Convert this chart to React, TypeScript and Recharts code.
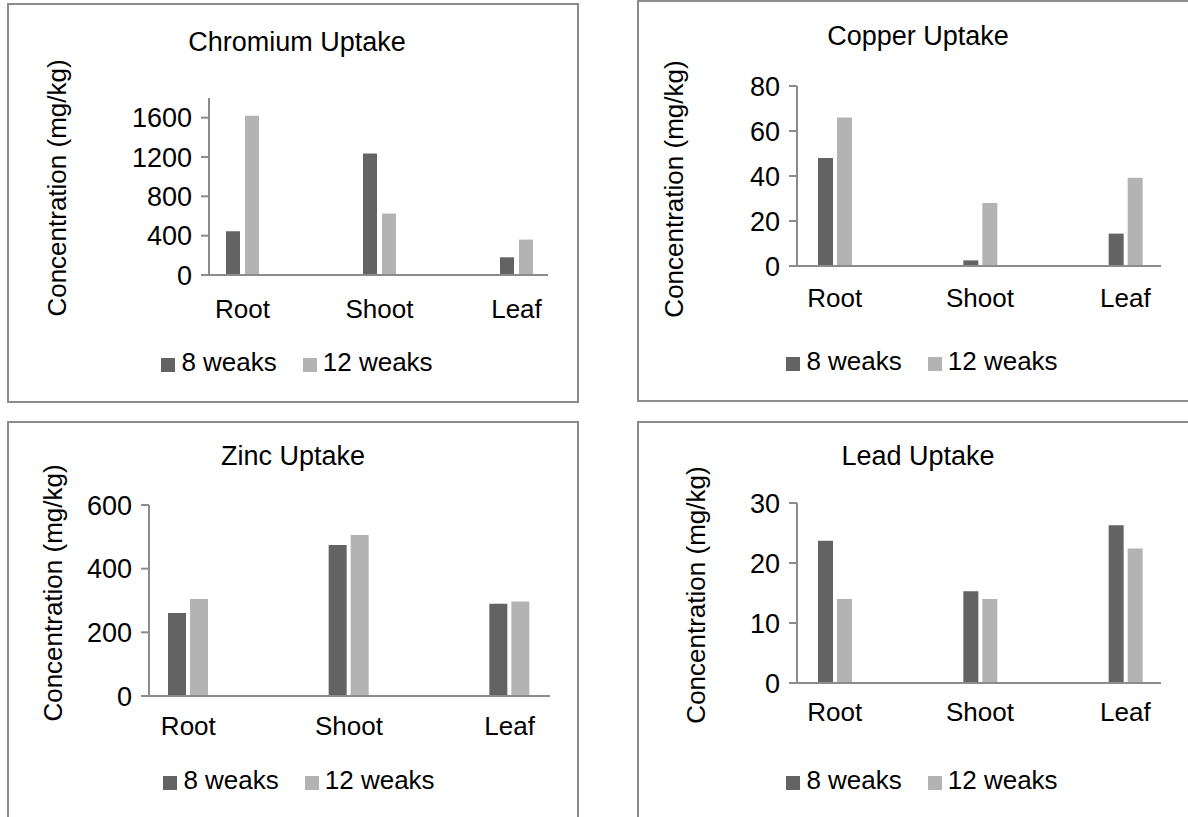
import React from 'react';
import { BarChart, Bar, XAxis, YAxis, Legend } from 'recharts';

const FONT = '"Liberation Sans", Arial, sans-serif';
const DARK = '#636363';
const LIGHT = '#b3b3b3';
const AXIS = '#8c8c8c';

const parts = ['Root', 'Shoot', 'Leaf'];
const seriesNames = ['8 weaks', '12 weaks'];
const yTitle = 'Concentration  (mg/kg)';

const chromium8 = [445, 1235, 180];
const chromium12 = [1620, 625, 360];
const chromiumTicks = [0, 400, 800, 1200, 1600];

const copper8 = [48, 2.5, 14.4];
const copper12 = [66, 28, 39.2];
const copperTicks = [0, 20, 40, 60, 80];

const zinc8 = [261, 474, 290];
const zinc12 = [305, 506, 297];
const zincTicks = [0, 200, 400, 600];

const lead8 = [23.7, 15.3, 26.3];
const lead12 = [14, 14, 22.4];
const leadTicks = [0, 10, 20, 30];

const toRows = (a: number[], b: number[]) =>
  parts.map((p, i) => ({ part: p, w8: a[i], w12: b[i] }));

// layout of each panel, in page pixels
const panels = [
  {
    title: 'Chromium Uptake', data: toRows(chromium8, chromium12),
    ticks: chromiumTicks, domain: [0, 1800],
    box: { left: 8, top: 4, right: 578, bottom: 402 },
    axisX: 209, axisY: 275, plotTop: 98, plotRight: 548,
    bandStart: 174, bandEnd: 585, barSize: 14, barGap: 5, catMargin: 25,
    titleX: 297, titleY: 51, labelX: 66, labelY: 188,
    legendX: 297, legendY: 371,
  },
  {
    title: 'Copper Uptake', data: toRows(copper8, copper12),
    ticks: copperTicks, domain: [0, 80],
    box: { left: 638, top: 1, right: 1200, bottom: 401 },
    axisX: 797, axisY: 266, plotTop: 86, plotRight: 1161,
    bandStart: 762, bandEnd: 1198, barSize: 15, barGap: 4, catMargin: 23,
    titleX: 918, titleY: 45, labelX: 683, labelY: 189,
    legendX: 922, legendY: 370,
  },
  {
    title: 'Zinc Uptake', data: toRows(zinc8, zinc12),
    ticks: zincTicks, domain: [0, 600],
    box: { left: 8, top: 422, right: 578, bottom: 830 },
    axisX: 149, axisY: 696, plotTop: 505, plotRight: 550,
    bandStart: 108, bandEnd: 590, barSize: 18, barGap: 4, catMargin: 21,
    titleX: 293, titleY: 465, labelX: 62, labelY: 593,
    legendX: 299, legendY: 789,
  },
  {
    title: 'Lead Uptake', data: toRows(lead8, lead12),
    ticks: leadTicks, domain: [0, 30],
    box: { left: 638, top: 422, right: 1200, bottom: 830 },
    axisX: 797, axisY: 683, plotTop: 503, plotRight: 1161,
    bandStart: 762, bandEnd: 1198, barSize: 15, barGap: 4, catMargin: 20,
    titleX: 918, titleY: 465, labelX: 705, labelY: 595,
    legendX: 922, legendY: 789,
  },
];

const renderLegend = (props: any) => {
  const items = [...(props.payload || [])].sort(
    (a: any, b: any) => seriesNames.indexOf(a.value) - seriesNames.indexOf(b.value)
  );
  return (
    <div style={{ display: 'flex', justifyContent: 'center', fontFamily: FONT, fontSize: 26, lineHeight: '26px', color: '#000' }}>
      {items.map((item: any, i: number) => (
        <div key={i} style={{ display: 'flex', alignItems: 'flex-start', marginLeft: i ? 26 : 0 }}>
          <span style={{ display: 'block', width: 14, height: 14, background: item.color, marginTop: 9, marginRight: 6 }} />
          <span style={{ whiteSpace: 'nowrap' }}>{item.value}</span>
        </div>
      ))}
    </div>
  );
};

function UptakeChart({ cfg }: { cfg: any }) {
  const { box } = cfg;
  const w = box.right - box.left;
  const h = box.bottom - box.top;
  const yw = 60;
  const xh = 40;
  const margin = {
    left: cfg.axisX - box.left - yw,
    top: cfg.plotTop - box.top,
    right: box.right - cfg.plotRight,
    bottom: box.bottom - cfg.axisY - xh,
  };
  return (
    <div style={{ position: 'absolute', left: box.left, top: box.top }}>
      <BarChart width={w} height={h} data={cfg.data} margin={margin} barGap={cfg.barGap}>
        <XAxis
          dataKey="part"
          height={xh}
          interval={0}
          tickLine={false}
          tickSize={0}
          tickMargin={cfg.catMargin}
          axisLine={{ stroke: AXIS, strokeWidth: 2 }}
          tick={{ fontSize: 26, fill: '#000', fontFamily: FONT }}
          padding={{ left: cfg.bandStart - cfg.axisX, right: cfg.plotRight - cfg.bandEnd }}
        />
        <YAxis
          width={yw}
          domain={cfg.domain}
          ticks={cfg.ticks}
          interval={0}
          tickSize={8}
          tickMargin={9}
          axisLine={{ stroke: AXIS, strokeWidth: 2 }}
          tickLine={{ stroke: AXIS, strokeWidth: 2 }}
          tick={{ fontSize: 27, fill: '#000', fontFamily: FONT }}
        />
        <Legend
          layout="horizontal"
          align="center"
          verticalAlign="middle"
          content={renderLegend}
          wrapperStyle={{ left: cfg.legendX - box.left - 200, top: cfg.legendY - 22 - box.top, width: 400, height: 26 }}
        />
        <Bar dataKey="w8" name={seriesNames[0]} fill={DARK} barSize={cfg.barSize} isAnimationActive={false} />
        <Bar dataKey="w12" name={seriesNames[1]} fill={LIGHT} barSize={cfg.barSize} isAnimationActive={false} />
      </BarChart>
    </div>
  );
}

export default function App() {
  return (
    <div style={{ position: 'absolute', left: 0, top: 0, width: 1188, height: 817, overflow: 'hidden', background: '#fff' }}>
      {panels.map((p, i) => (
        <div
          key={'b' + i}
          style={{
            position: 'absolute', boxSizing: 'border-box', border: `2px solid ${AXIS}`,
            left: p.box.left - 1, top: p.box.top - 1,
            width: p.box.right - p.box.left + 2, height: p.box.bottom - p.box.top + 2,
          }}
        />
      ))}
      {panels.map((p, i) => <UptakeChart key={'c' + i} cfg={p} />)}
      <svg width={1188} height={817} style={{ position: 'absolute', left: 0, top: 0, pointerEvents: 'none' }}>
        {panels.map((p, i) => (
          <g key={i} fontFamily={FONT} fill="#000">
            <text x={p.titleX} y={p.titleY} fontSize={27} textAnchor="middle">{p.title}</text>
            <text x={p.labelX} y={p.labelY} fontSize={26} textAnchor="middle" transform={`rotate(-90 ${p.labelX} ${p.labelY})`}>{yTitle}</text>
          </g>
        ))}
      </svg>
    </div>
  );
}
